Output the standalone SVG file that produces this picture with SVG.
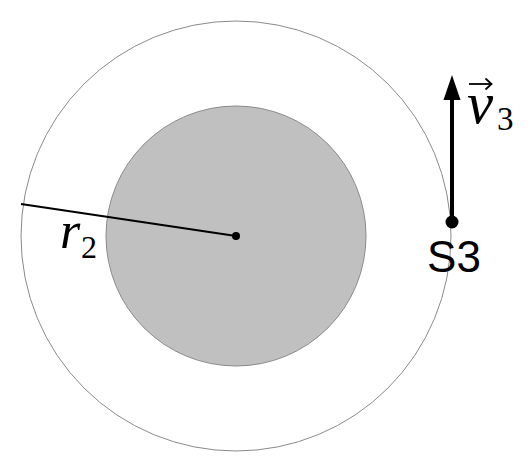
<svg xmlns="http://www.w3.org/2000/svg" width="532" height="472" viewBox="0 0 532 472">
<defs>
<style>
.orbit{fill:none;stroke:#8a8a8a;stroke-width:1}
.core{fill:#c0c0c0;stroke:#8a8a8a;stroke-width:1}
.math{font-family:"Liberation Serif",serif;font-style:italic;fill:#000}
.sub{font-family:"Liberation Serif",serif;fill:#000}
.lbl{font-family:"Liberation Sans",Arial,sans-serif;fill:#000}
</style>
</defs>
<rect width="532" height="472" fill="#fff"/>
<g id="orbit"><circle class="orbit" cx="236" cy="236" r="215"/></g>
<g id="core"><circle class="core" cx="236" cy="236" r="130"/></g>
<g id="connectors">
<line x1="21" y1="204" x2="236" y2="236" stroke="#000" stroke-width="2.2"/>
<line x1="452" y1="222" x2="452" y2="98" stroke="#000" stroke-width="4"/>
<polygon points="452,75 443.5,100 460.5,100" fill="#000"/>
</g>
<g id="center"><circle cx="236" cy="236" r="4" fill="#000"/></g>
<g id="r2label">
<text class="math" x="60" y="248" font-size="52">r</text>
<text class="sub" x="81" y="258" font-size="32">2</text>
</g>
<g id="S3">
<circle cx="452" cy="222" r="6.5" fill="#000"/>
<text class="lbl" x="454" y="272" font-size="44" text-anchor="middle">S3</text>
</g>
<g id="v3label">
<text class="math" x="467" y="123" font-size="59">v</text>
<line x1="469" y1="84" x2="491" y2="84" stroke="#000" stroke-width="1.8"/>
<polyline points="485.5,78.5 491.5,84 485.5,89.5" fill="none" stroke="#000" stroke-width="1.8"/>
<text class="sub" x="497" y="130" font-size="33">3</text>
</g>
</svg>
